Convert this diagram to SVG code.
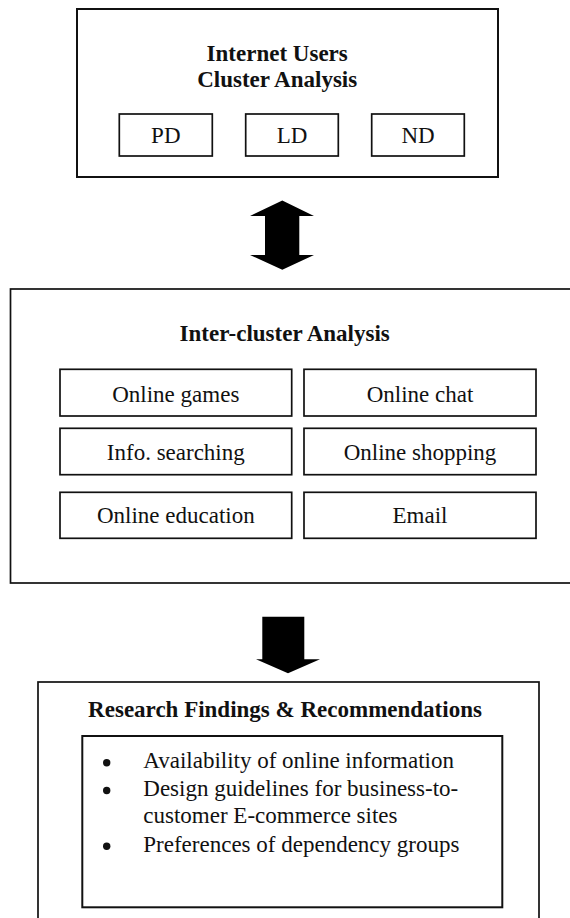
<svg xmlns="http://www.w3.org/2000/svg" width="570" height="918" viewBox="0 0 570 918">
<style>
.box{fill:#fff;stroke:#111;stroke-width:1.7}
.outer{fill:#fff;stroke:#111;stroke-width:2}
text{font-family:'Liberation Serif','Times New Roman',Times,'DejaVu Serif',serif;font-size:23px;fill:#111}
.h{font-weight:bold;text-anchor:middle}
.t{text-anchor:middle}
.arrow{fill:#000}
.bullet{fill:#111}
</style>
<rect width="570" height="918" fill="#fff"/>
<g id="cluster-analysis">
<rect class="outer" x="77" y="9" width="421" height="168"/>
<text class="h" x="277.2" y="60.5">Internet Users</text>
<text class="h" x="277.2" y="87.3">Cluster Analysis</text>
<g id="pd"><rect class="box" x="119.3" y="114" width="93" height="42"/><text class="t" x="165.8" y="143">PD</text></g>
<g id="ld"><rect class="box" x="245.7" y="114" width="92.6" height="42"/><text class="t" x="292" y="143">LD</text></g>
<g id="nd"><rect class="box" x="371.7" y="114" width="92.6" height="42"/><text class="t" x="418" y="143">ND</text></g>
</g>
<g id="inter-cluster">
<rect class="box" x="10.5" y="289" width="570" height="294"/>
<text class="h" x="284.7" y="341">Inter-cluster Analysis</text>
<g id="games"><rect class="box" x="60" y="369.3" width="231.7" height="46.7"/><text class="t" x="175.8" y="401.7">Online games</text></g>
<g id="chat"><rect class="box" x="304" y="369.3" width="232" height="46.7"/><text class="t" x="420" y="401.7">Online chat</text></g>
<g id="info"><rect class="box" x="60" y="428.3" width="231.7" height="46.4"/><text class="t" x="175.8" y="460">Info. searching</text></g>
<g id="shopping"><rect class="box" x="304" y="428.3" width="232" height="46.4"/><text class="t" x="420" y="460">Online shopping</text></g>
<g id="education"><rect class="box" x="60" y="492.3" width="231.7" height="46"/><text class="t" x="175.8" y="523.3">Online education</text></g>
<g id="email"><rect class="box" x="304" y="492.3" width="232" height="46"/><text class="t" x="420" y="523.3">Email</text></g>
</g>
<g id="findings">
<rect class="box" x="38" y="682" width="501" height="260"/>
<text class="h" x="285" y="716.7">Research Findings &amp; Recommendations</text>
<g id="findings-list">
<rect class="outer" x="82.3" y="736" width="420" height="171.3"/>
<circle class="bullet" cx="106.7" cy="762.8" r="3.7"/>
<text x="143.3" y="768.3">Availability of online information</text>
<circle class="bullet" cx="106.7" cy="790.5" r="3.7"/>
<text x="143.3" y="796">Design guidelines for business-to-</text>
<text x="143.3" y="823">customer E-commerce sites</text>
<circle class="bullet" cx="106.7" cy="846.2" r="3.7"/>
<text x="143.3" y="851.7">Preferences of dependency groups</text>
</g>
</g>
<g id="connectors">
<polygon class="arrow" points="282.3,200.5 314,216 299.3,216 299.3,255 314,255 282.3,269.8 250,255 265,255 265,216 250,216"/>
<polygon class="arrow" points="262.3,616.7 304.3,616.7 304.3,659.3 320,659.3 288,673.3 256,659.3 262.3,659.3"/>
</g>
</svg>
